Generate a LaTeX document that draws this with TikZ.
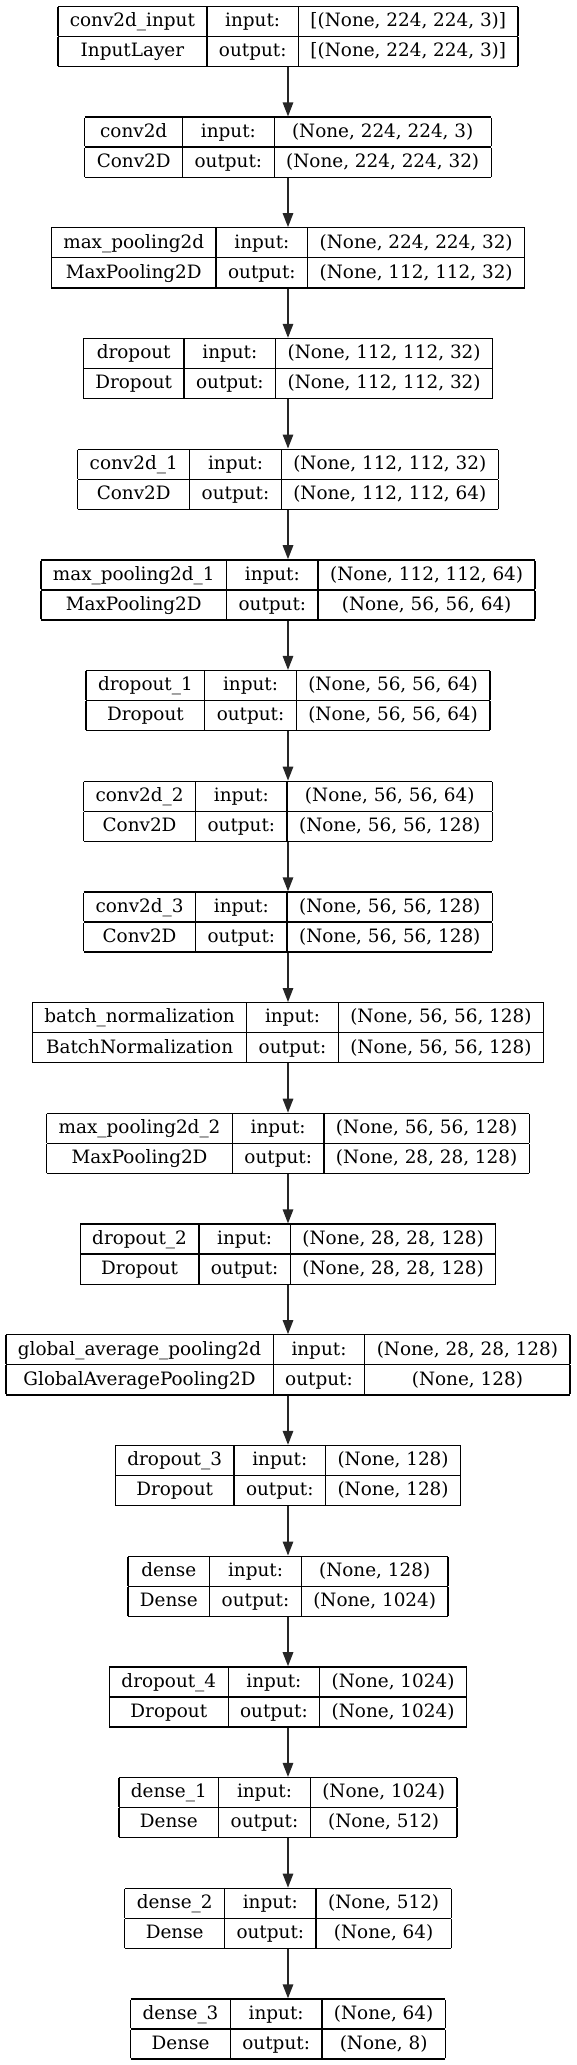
\documentclass[tikz,border=0pt]{standalone}
\usepackage{fontspec}
\setmainfont{DejaVu Serif}
\usetikzlibrary{positioning,arrows.meta}
\setlength{\tabcolsep}{12pt}
\setlength{\arrayrulewidth}{1.3pt}
\newcommand{\rowstrut}{\rule[-9.1pt]{0pt}{28.75pt}}
\newcommand{\layerbox}[4]{%
  \begin{tabular}{|c|c|c|}\hline
  \rowstrut #1 & input: & #3\\\hline
  \rowstrut #2 & output: & #4\\\hline
  \end{tabular}}
\begin{document}
\begin{tikzpicture}[
   x=1pt, y=1pt,
   every node/.style={inner sep=0pt, outer sep=0pt, font=\fontsize{18.4}{22}\selectfont},
   node distance=49.3pt,
   flow/.style={draw=black!85, line width=1.5pt, -{Triangle[length=14pt, width=10.5pt]}}]

\useasboundingbox (0,0) rectangle (576,-2065);

\node[anchor=north] (inp) at (288,-5.7)
   {\layerbox{conv2d\_input}{InputLayer}{[(None, 224, 224, 3)]}{[(None, 224, 224, 3)]}};
\node[below=of inp] (conv)
   {\layerbox{conv2d}{Conv2D}{(None, 224, 224, 3)}{(None, 224, 224, 32)}};
\node[below=of conv] (pool)
   {\layerbox{max\_pooling2d}{MaxPooling2D}{(None, 224, 224, 32)}{(None, 112, 112, 32)}};
\node[below=of pool] (drop)
   {\layerbox{dropout}{Dropout}{(None, 112, 112, 32)}{(None, 112, 112, 32)}};
\node[below=of drop] (conv1)
   {\layerbox{conv2d\_1}{Conv2D}{(None, 112, 112, 32)}{(None, 112, 112, 64)}};
\node[below=of conv1] (pool1)
   {\layerbox{max\_pooling2d\_1}{MaxPooling2D}{(None, 112, 112, 64)}{(None, 56, 56, 64)}};
\node[below=of pool1] (drop1)
   {\layerbox{dropout\_1}{Dropout}{(None, 56, 56, 64)}{(None, 56, 56, 64)}};
\node[below=of drop1] (conv2)
   {\layerbox{conv2d\_2}{Conv2D}{(None, 56, 56, 64)}{(None, 56, 56, 128)}};
\node[below=of conv2] (conv3)
   {\layerbox{conv2d\_3}{Conv2D}{(None, 56, 56, 128)}{(None, 56, 56, 128)}};
\node[below=of conv3] (bnorm)
   {\layerbox{batch\_normalization}{BatchNormalization}{(None, 56, 56, 128)}{(None, 56, 56, 128)}};
\node[below=of bnorm] (pool2)
   {\layerbox{max\_pooling2d\_2}{MaxPooling2D}{(None, 56, 56, 128)}{(None, 28, 28, 128)}};
\node[below=of pool2] (drop2)
   {\layerbox{dropout\_2}{Dropout}{(None, 28, 28, 128)}{(None, 28, 28, 128)}};
\node[below=of drop2] (gap)
   {\layerbox{global\_average\_pooling2d}{GlobalAveragePooling2D}{(None, 28, 28, 128)}{(None, 128)}};
\node[below=of gap] (drop3)
   {\layerbox{dropout\_3}{Dropout}{(None, 128)}{(None, 128)}};
\node[below=of drop3] (dense)
   {\layerbox{dense}{Dense}{(None, 128)}{(None, 1024)}};
\node[below=of dense] (drop4)
   {\layerbox{dropout\_4}{Dropout}{(None, 1024)}{(None, 1024)}};
\node[below=of drop4] (dense1)
   {\layerbox{dense\_1}{Dense}{(None, 1024)}{(None, 512)}};
\node[below=of dense1] (dense2)
   {\layerbox{dense\_2}{Dense}{(None, 512)}{(None, 64)}};
\node[below=of dense2] (dense3)
   {\layerbox{dense\_3}{Dense}{(None, 64)}{(None, 8)}};

% connections
\draw[flow] (inp) -- (conv);
\draw[flow] (conv) -- (pool);
\draw[flow] (pool) -- (drop);
\draw[flow] (drop) -- (conv1);
\draw[flow] (conv1) -- (pool1);
\draw[flow] (pool1) -- (drop1);
\draw[flow] (drop1) -- (conv2);
\draw[flow] (conv2) -- (conv3);
\draw[flow] (conv3) -- (bnorm);
\draw[flow] (bnorm) -- (pool2);
\draw[flow] (pool2) -- (drop2);
\draw[flow] (drop2) -- (gap);
\draw[flow] (gap) -- (drop3);
\draw[flow] (drop3) -- (dense);
\draw[flow] (dense) -- (drop4);
\draw[flow] (drop4) -- (dense1);
\draw[flow] (dense1) -- (dense2);
\draw[flow] (dense2) -- (dense3);

\end{tikzpicture}
\end{document}
